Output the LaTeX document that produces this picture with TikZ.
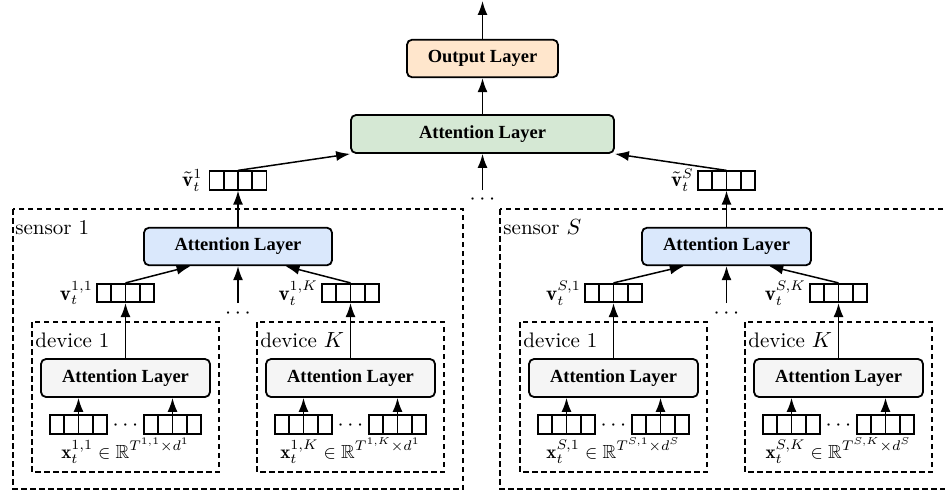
\documentclass[tikz,border=0pt]{standalone}
\usepackage{amssymb}
\usepackage{fontspec}
\newfontfamily\tnr{Liberation Serif}
\usetikzlibrary{arrows.meta,calc}
\definecolor{cgray}{HTML}{F5F5F5}
\definecolor{cblue}{HTML}{DAE8FC}
\definecolor{cgreen}{HTML}{D5E8D4}
\definecolor{corange}{HTML}{FFE6CC}
% #1 name, #2 centre x, #3 device label, #4 superscript, #5 d superscript
\newcommand\mydev[5]{%
  \draw[grp] (#2-93.5,322) rectangle (#2+93.5,472);
  \node[lbl,anchor=base west] (#1name) at (#2-90.5,347) {#3};
  \node[layer,fill=cgray,minimum width=84.5pt,minimum height=19pt] (#1att) at (#2,378) {Attention Layer};
  \node[vecbox] (#1a) at (#2-47,424.5) {};
  \node[vecbox] (#1b) at (#2+47,424.5) {};
  \node[lbl,anchor=base] (#1dots) at (#2,430) {$\cdots$};
  \node[xlbl] (#1lab) at (#2,451) {$\mathbf{x}_t^{#4}\in\mathbb{R}^{T^{#4}\times d^{#5}}$};
  \node[vecbox] (#1v) at (#2,293) {};
  \node[lbl,anchor=east] (#1vl) at ([xshift=-1.5pt]#1v.west) {$\mathbf{v}_t^{#4}$};
  \draw[arr] (#1a.north) -- (#1a.north |- #1att.south);
  \draw[arr] (#1b.north) -- (#1b.north |- #1att.south);
  \draw[arr] (#1att.north) -- (#1v.south);
}
\begin{document}
\begin{tikzpicture}[x=0.5pt,y=-0.5pt,
  layer/.style={draw=black,line width=0.9pt,rounded corners=2.5pt,inner sep=0pt,
    minimum height=18.75pt,font=\tnr\bfseries\fontsize{9.25}{11}\selectfont},
  vecbox/.style={draw=black,line width=0.85pt,minimum width=28.5pt,minimum height=9.25pt,inner sep=0pt,
    path picture={\foreach \i in {1,2,3}{\draw[line width=0.85pt]
      ([xshift=\i*7.125pt]path picture bounding box.south west) --
      ([xshift=\i*7.125pt]path picture bounding box.north west);}}},
  arr/.style={-{Latex[length=7pt,width=5pt]},line width=0.75pt},
  grp/.style={draw=black,line width=0.7pt,dash pattern=on 2.75pt off 1.75pt},
  lbl/.style={font=\fontsize{10.5}{12}\selectfont,inner sep=0pt},
  xlbl/.style={font=\fontsize{9.5}{11}\selectfont,inner sep=0pt},
]
\useasboundingbox (0,0) rectangle (945,497);
\clip (0,0) rectangle (945,497);

% top level
\node[layer,fill=corange,minimum width=75.5pt] (out) at (482.5,58.5) {Output Layer};
\node[layer,fill=cgreen,minimum width=131.5pt,minimum height=19pt] (tatt) at (482.5,134) {Attention Layer};
\coordinate (topend) at (482.5,1);
\coordinate (tmid) at (482.5,190);
\node[lbl,anchor=base] (tdots) at (482.5,205) {$\cdots$};
\draw[arr] (out.north) -- (topend);
\draw[arr] (tatt.north) -- (out.south);
\draw[arr] (tmid) -- (tatt.south);

% sensor 1
\draw[grp] (13,209) rectangle (463,489);
\node[lbl,anchor=base west] (s1name) at (15,234) {sensor 1};
\node[layer,fill=cblue,minimum width=94pt] (s1att) at (238,246.5) {Attention Layer};
\node[vecbox] (vt1) at (238,180.5) {};
\node[lbl,anchor=east] (vt1l) at ([xshift=-3pt]vt1.west) {$\tilde{\mathbf{v}}_t^1$};
\coordinate (s1mid) at (238,303);
\node[lbl,anchor=base] (s1dots) at (238,318) {$\cdots$};
\draw[arr] (s1att.north) -- (vt1.south);
\draw[arr] (vt1.north) -- (tatt.south west);
\draw[arr] (s1mid) -- (s1att.south);
\mydev{da}{125.5}{device 1}{1,1}{1}
\mydev{db}{350.5}{device $K$}{1,K}{1}
\draw[arr] (dav.north) -- ($(s1att.south)!0.5!(s1att.south west)$);
\draw[arr] (dbv.north) -- ($(s1att.south)!0.5!(s1att.south east)$);

% sensor S
\draw[grp] (500,209) rectangle (950,489);
\node[lbl,anchor=base west] (sSname) at (503,234) {sensor $S$};
\node[layer,fill=cblue,minimum width=84.5pt] (sSatt) at (726.5,246.5) {Attention Layer};
\node[vecbox] (vtS) at (726.5,180.5) {};
\node[lbl,anchor=east] (vtSl) at ([xshift=-1.5pt]vtS.west) {$\tilde{\mathbf{v}}_t^S$};
\coordinate (sSmid) at (726.5,303);
\node[lbl,anchor=base] (sSdots) at (726.5,318) {$\cdots$};
\draw[arr] (sSatt.north) -- (vtS.south);
\draw[arr] (vtS.north) -- (tatt.south east);
\draw[arr] (sSmid) -- (sSatt.south);
\mydev{dc}{613.5}{device 1}{S,1}{S}
\mydev{dd}{838.5}{device $K$}{S,K}{S}
\draw[arr] (dcv.north) -- ($(sSatt.south)!0.5!(sSatt.south west)$);
\draw[arr] (ddv.north) -- ($(sSatt.south)!0.5!(sSatt.south east)$);
\end{tikzpicture}
\end{document}
